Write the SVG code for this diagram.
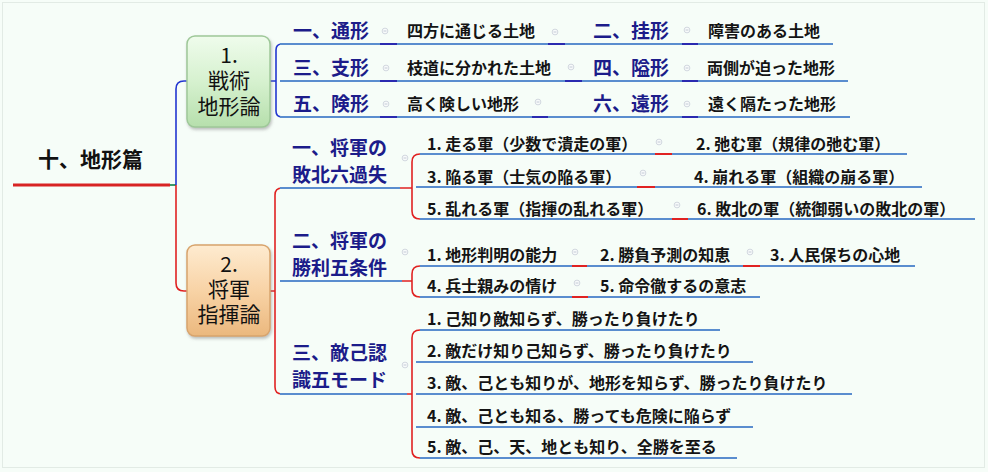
<svg xmlns="http://www.w3.org/2000/svg" width="988" height="472" viewBox="0 0 988 472">
<defs>
<linearGradient id="gGreen" x1="0" y1="0" x2="0" y2="1">
<stop offset="0" stop-color="#effcec"/><stop offset="0.5" stop-color="#d6f1cf"/><stop offset="1" stop-color="#b6dfac"/>
</linearGradient>
<linearGradient id="gOrange" x1="0" y1="0" x2="0" y2="1">
<stop offset="0" stop-color="#feebd0"/><stop offset="0.5" stop-color="#f8d3a6"/><stop offset="1" stop-color="#ebb87e"/>
</linearGradient>
<filter id="sh" x="-20%" y="-20%" width="140%" height="140%">
<feDropShadow dx="1" dy="2" stdDeviation="1.5" flood-color="#808080" flood-opacity="0.5"/>
</filter>
<symbol id="col" viewBox="-5 -5 10 10" overflow="visible">
<circle cx="0" cy="0" r="3.6" fill="#f8fbfb" stroke="#c2c8d4" stroke-width="0.9"/>
<line x1="-1.8" y1="0" x2="1.8" y2="0" stroke="#b0b8c8" stroke-width="0.9"/>
</symbol>
</defs>
<style>
text{font-family:"Noto Sans CJK JP","Noto Sans CJK SC",sans-serif;}
.root{font-size:21px;font-weight:bold;fill:#111;}
.box{font-size:21px;fill:#111;text-anchor:middle;}
.ti{font-size:19px;font-weight:bold;fill:#1c1c8a;}
.it{font-size:16px;font-weight:bold;fill:#141414;}
.ul{stroke:#5a8dcf;stroke-width:2;fill:none;}
.nv{stroke:#2a2ab0;stroke-width:2;fill:none;}
.rd{stroke:#e02222;stroke-width:2;fill:none;}
.bl{stroke:#2236d0;stroke-width:1.6;fill:none;}
.rb{stroke:#e02222;stroke-width:1.6;fill:none;}
</style>
<rect x="0" y="0" width="988" height="472" fill="#f6fdf8"/>
<rect x="2.5" y="2.5" width="982" height="465" fill="none" stroke="#e2ebe5" stroke-width="1"/>

<g id="connectors">
<line x1="13" y1="185" x2="170" y2="185" stroke="#d82424" stroke-width="3"/>
<line x1="170" y1="185" x2="176" y2="185" stroke="#3a9a68" stroke-width="2"/>
<path class="bl" d="M176,185 V89 Q176,81 184,81 H187"/>
<path class="rb" d="M176,185 V283 Q176,291 184,291 H187"/>
<path class="bl" d="M270,81 H276 M282,44 Q276,44 276,50 V111 Q276,117 282,117"/>
<path class="rb" d="M270,291 H275 M282,188 Q275,188 275,195 V387 Q275,394 282,394"/>
<path class="nv" d="M380,44 H397 M548,44 H565 M682,44 H698 M380,81 H397 M565,81 H582 M682,81 H698 M380,117 H397 M532,117 H548 M682,117 H698"/>
<path class="rb" d="M400,188 H412 M420,154 Q412,154 412,162 V211 Q412,219 420,219"/>
<path class="rb" d="M402,281 H412 M420,266 Q412,266 412,274 V289 Q412,297 420,297"/>
<path class="rb" d="M407,394 H412 M420,330 Q412,330 412,338 V450 Q412,458 420,458"/>
<path class="rd" d="M655,154 H672 M637,187 H655 M672,219 H688 M572,266 H587 M743,266 H760 M572,297 H588"/>
</g>

<g id="root"><text class="root" x="38" y="167">十、地形篇</text></g>

<g id="box1">
<rect x="187" y="36" width="83" height="91" rx="8" fill="url(#gGreen)" stroke="#9ec898" stroke-width="1.5" filter="url(#sh)"/>
<text class="box" x="229" y="63">1.</text>
<text class="box" x="229" y="88">戦術</text>
<text class="box" x="229" y="114">地形論</text>
</g>
<g id="box2">
<rect x="187" y="245" width="83" height="91" rx="8" fill="url(#gOrange)" stroke="#d8a46c" stroke-width="1.5" filter="url(#sh)"/>
<text class="box" x="229" y="272">2.</text>
<text class="box" x="229" y="297">将軍</text>
<text class="box" x="229" y="322">指揮論</text>
</g>

<!-- top section -->
<g id="t1"><path class="ul" d="M280,44 H380"/><text class="ti" x="293" y="38">一、通形</text><use href="#col" x="381" y="27" width="8" height="8"/></g>
<g id="t1d"><path class="ul" d="M397,44 H548"/><text class="it" x="407" y="37">四方に通じる土地</text><use href="#col" x="551" y="28" width="8" height="8"/></g>
<g id="t2"><path class="ul" d="M565,44 H682"/><text class="ti" x="593" y="38">二、挂形</text><use href="#col" x="683" y="26" width="8" height="8"/></g>
<g id="t2d"><path class="ul" d="M698,44 H833"/><text class="it" x="708" y="37">障害のある土地</text></g>

<g id="t3"><path class="ul" d="M280,81 H380"/><text class="ti" x="293" y="75">三、支形</text><use href="#col" x="382" y="64" width="8" height="8"/></g>
<g id="t3d"><path class="ul" d="M397,81 H565"/><text class="it" x="407" y="74">枝道に分かれた土地</text><use href="#col" x="567" y="63" width="8" height="8"/></g>
<g id="t4"><path class="ul" d="M582,81 H682"/><text class="ti" x="593" y="75">四、隘形</text><use href="#col" x="683" y="64" width="8" height="8"/></g>
<g id="t4d"><path class="ul" d="M698,81 H848"/><text class="it" x="707" y="74">両側が迫った地形</text></g>

<g id="t5"><path class="ul" d="M280,117 H380"/><text class="ti" x="293" y="111">五、険形</text><use href="#col" x="382" y="100" width="8" height="8"/></g>
<g id="t5d"><path class="ul" d="M397,117 H532"/><text class="it" x="407" y="110">高く険しい地形</text><use href="#col" x="534" y="98" width="8" height="8"/></g>
<g id="t6"><path class="ul" d="M548,117 H682"/><text class="ti" x="593" y="111">六、遠形</text><use href="#col" x="683" y="100" width="8" height="8"/></g>
<g id="t6d"><path class="ul" d="M698,117 H850"/><text class="it" x="708" y="110">遠く隔たった地形</text></g>

<!-- group 1 -->
<g id="g1"><path class="ul" d="M280,188 H400"/><text class="ti" x="292" y="155">一、将軍の</text><text class="ti" x="292" y="182">敗北六過失</text><use href="#col" x="401" y="154" width="8" height="8"/></g>
<g id="g1a"><path class="ul" d="M420,154 H655"/><text class="it" x="427" y="150">1. 走る軍（少数で潰走の軍）</text><use href="#col" x="655" y="138" width="8" height="8"/></g>
<g id="g1b"><path class="ul" d="M672,154 H907"/><text class="it" x="696" y="150">2. 弛む軍（規律の弛む軍）</text></g>
<g id="g1c"><path class="ul" d="M416,187 H637"/><text class="it" x="427" y="183">3. 陥る軍（士気の陥る軍）</text><use href="#col" x="639" y="169" width="8" height="8"/></g>
<g id="g1d"><path class="ul" d="M655,187 H922"/><text class="it" x="694" y="183">4. 崩れる軍（組織の崩る軍）</text></g>
<g id="g1e"><path class="ul" d="M420,219 H672"/><text class="it" x="427" y="215">5. 乱れる軍（指揮の乱れる軍）</text><use href="#col" x="673" y="201" width="8" height="8"/></g>
<g id="g1f"><path class="ul" d="M688,219 H975"/><text class="it" x="697" y="215">6. 敗北の軍（統御弱いの敗北の軍）</text></g>

<!-- group 2 -->
<g id="g2"><path class="ul" d="M280,281 H402"/><text class="ti" x="292" y="248">二、将軍の</text><text class="ti" x="292" y="275">勝利五条件</text><use href="#col" x="401" y="248" width="8" height="8"/></g>
<g id="g2a"><path class="ul" d="M420,266 H572"/><text class="it" x="427" y="261">1. 地形判明の能力</text><use href="#col" x="571" y="248" width="8" height="8"/></g>
<g id="g2b"><path class="ul" d="M587,266 H743"/><text class="it" x="600" y="261">2. 勝負予測の知恵</text><use href="#col" x="746" y="248" width="8" height="8"/></g>
<g id="g2c"><path class="ul" d="M760,266 H915"/><text class="it" x="770" y="261">3. 人民保ちの心地</text></g>
<g id="g2d"><path class="ul" d="M420,297 H572"/><text class="it" x="427" y="292">4. 兵士親みの情け</text><use href="#col" x="573" y="279" width="8" height="8"/></g>
<g id="g2e"><path class="ul" d="M588,297 H760"/><text class="it" x="600" y="292">5. 命令徹するの意志</text></g>

<!-- group 3 -->
<g id="g3"><path class="ul" d="M280,394 H407"/><text class="ti" x="292" y="360">三、敵己認</text><text class="ti" x="292" y="387">識五モード</text><use href="#col" x="401" y="361" width="8" height="8"/></g>
<g id="g3a"><path class="ul" d="M420,330 H720"/><text class="it" x="427" y="325">1. 己知り敵知らず、勝ったり負けたり</text></g>
<g id="g3b"><path class="ul" d="M416,362 H753"/><text class="it" x="427" y="357">2. 敵だけ知り己知らず、勝ったり負けたり</text></g>
<g id="g3c"><path class="ul" d="M416,394 H852"/><text class="it" x="427" y="389">3. 敵、己とも知りが、地形を知らず、勝ったり負けたり</text></g>
<g id="g3d"><path class="ul" d="M416,427 H753"/><text class="it" x="427" y="422">4. 敵、己とも知る、勝っても危険に陥らず</text></g>
<g id="g3e"><path class="ul" d="M420,458 H737"/><text class="it" x="427" y="453">5. 敵、己、天、地とも知り、全勝を至る</text></g>
</svg>
